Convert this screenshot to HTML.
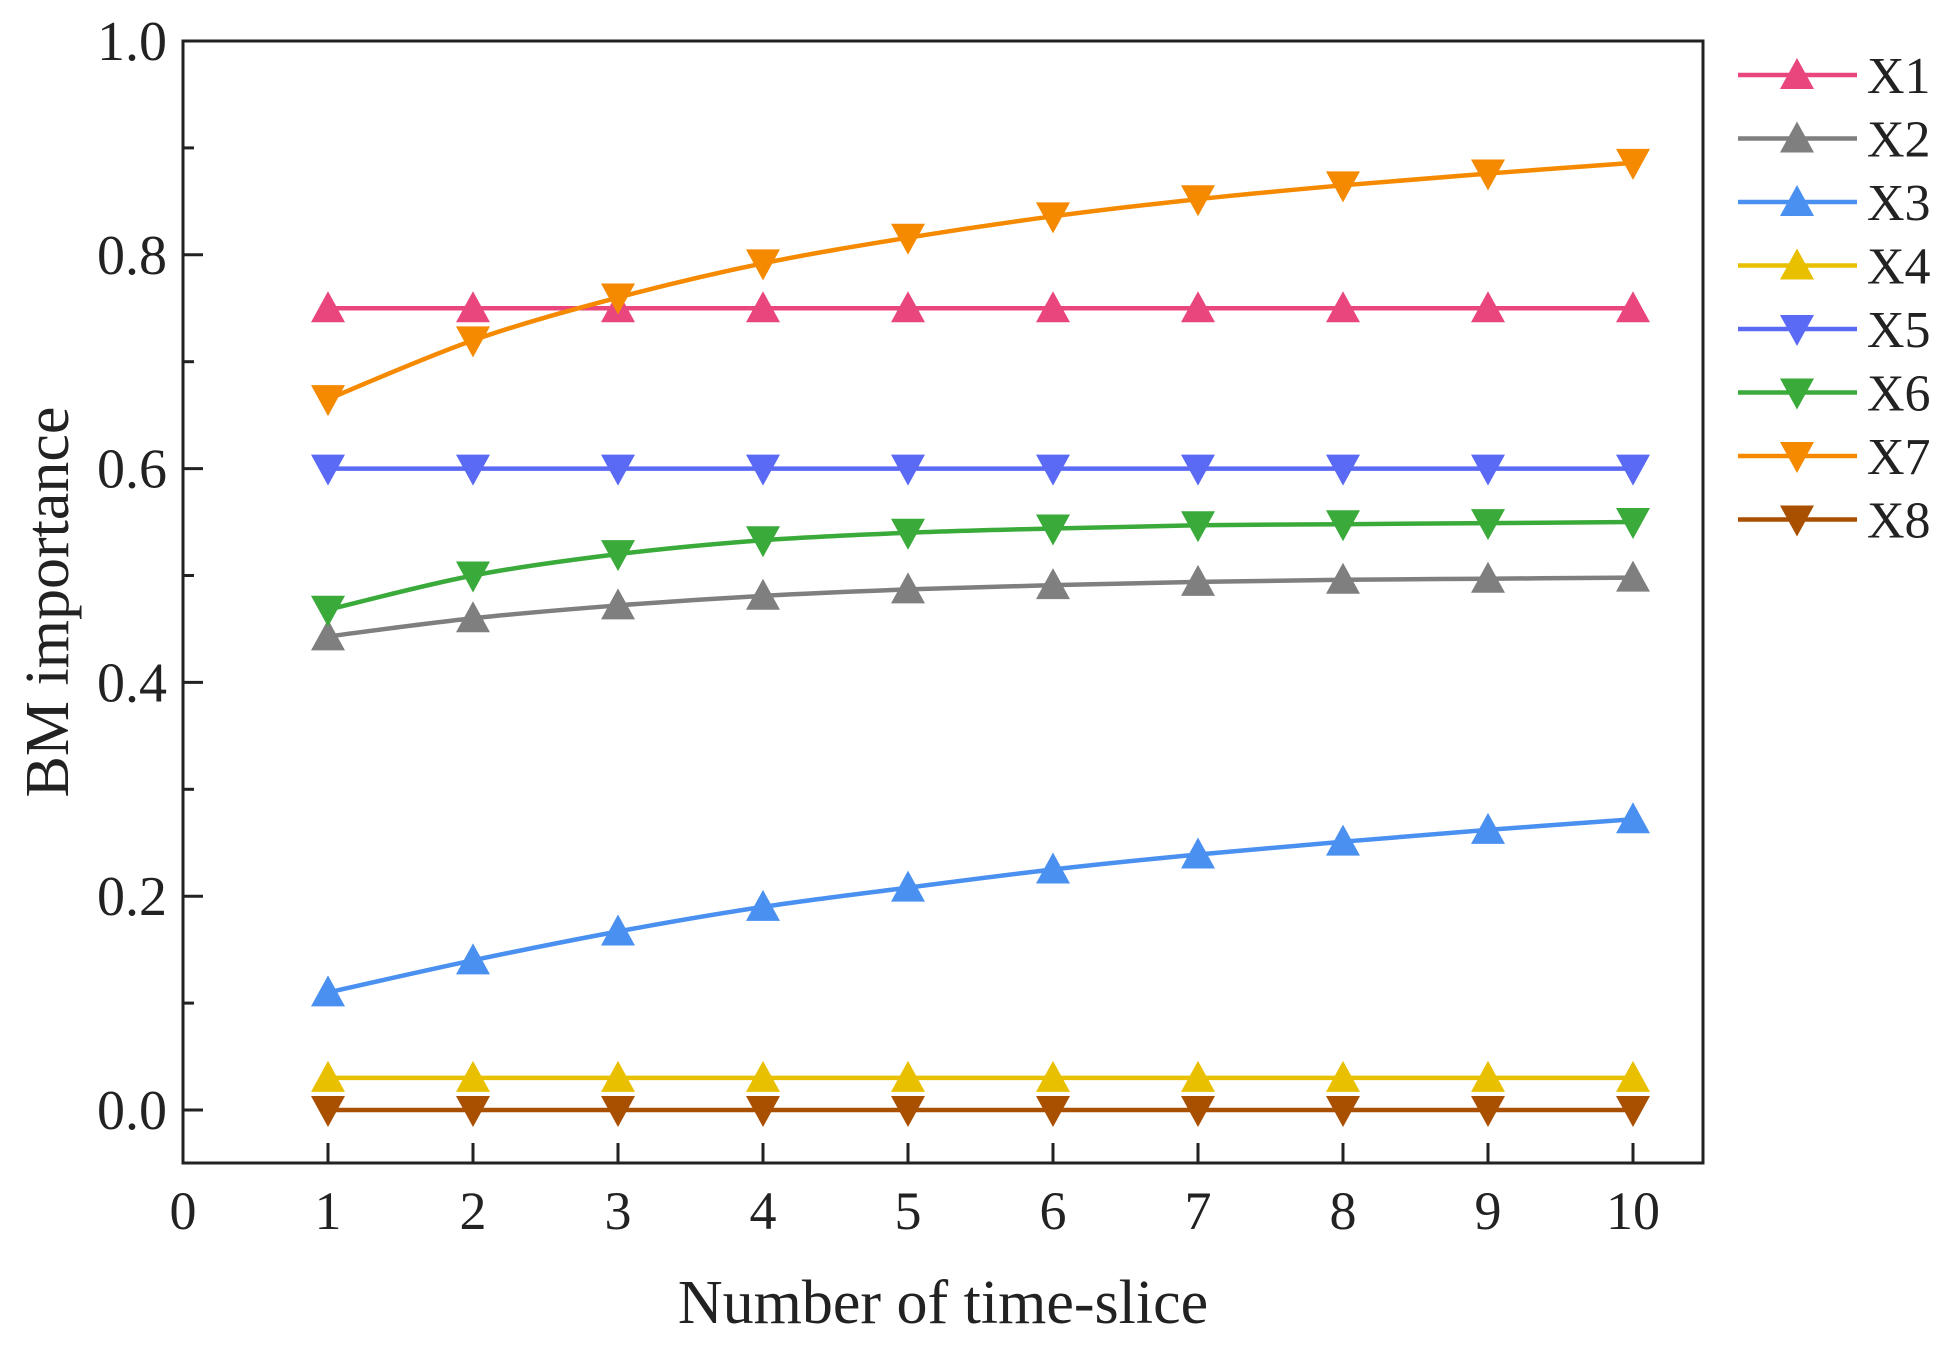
<!DOCTYPE html>
<html><head><meta charset="utf-8"><style>
body{margin:0;background:#fff;}
svg text{font-family:"Liberation Serif",serif;fill:#222;}
</style></head><body>
<svg id="chart" width="1953" height="1350" xmlns="http://www.w3.org/2000/svg"></svg>
<script>
const categories=[1,2,3,4,5,6,7,8,9,10];
const seriesNames=["X1","X2","X3","X4","X5","X6","X7","X8"];
const x1=[0.75,0.75,0.75,0.75,0.75,0.75,0.75,0.75,0.75,0.75];
const x2=[0.443,0.46,0.472,0.481,0.487,0.491,0.494,0.496,0.497,0.498];
const x3=[0.11,0.14,0.167,0.19,0.208,0.225,0.239,0.251,0.262,0.272];
const x4=[0.03,0.03,0.03,0.03,0.03,0.03,0.03,0.03,0.03,0.03];
const x5=[0.6,0.6,0.6,0.6,0.6,0.6,0.6,0.6,0.6,0.6];
const x6=[0.468,0.5,0.52,0.533,0.54,0.544,0.547,0.548,0.549,0.55];
const x7=[0.665,0.72,0.76,0.792,0.816,0.836,0.852,0.865,0.876,0.886];
const x8=[0,0,0,0,0,0,0,0,0,0];
const xTicks=[0,1,2,3,4,5,6,7,8,9,10];
const yTicks=["0.0","0.2","0.4","0.6","0.8","1.0"];

const svg=document.getElementById('chart');
const NS="http://www.w3.org/2000/svg";
const L=183,R=1703,T=41,B=1163;
const X=v=>L+v*145;
const Y=v=>1110-v*1069;
function mk(tag,attrs,parent){const e=document.createElementNS(NS,tag);for(const k in attrs)e.setAttribute(k,attrs[k]);(parent||svg).appendChild(e);return e;}

const colors=["#e8467c","#7f7f7f","#4a90f0","#e8c000","#5a6af5","#3aaa3a","#f58a00","#a84f00"];
const up=[true,true,true,true,false,false,false,false];
const data=[x1,x2,x3,x4,x5,x6,x7,x8];

function tri(cx,cy,isUp,color,parent){
  const w=17,h=14;
  const p=isUp?`${cx-w},${cy+h} ${cx+w},${cy+h} ${cx},${cy-h-3}`:`${cx-w},${cy-h} ${cx+w},${cy-h} ${cx},${cy+h+3}`;
  return mk('polygon',{points:p,fill:color},parent);
}

const frame=mk('rect',{x:L,y:T,width:R-L,height:B-T,fill:'none',stroke:'#222','stroke-width':3});



yTicks.forEach(t=>{
  const v=parseFloat(t),y=Y(v);
  const tk=mk('line',{x1:L,x2:L+20,y1:y,y2:y,stroke:'#222','stroke-width':3});
  
  
  const lb=mk('text',{x:L-16,y:y+19,'text-anchor':'end','font-size':56});
  lb.textContent=t;
  
  
});
[0.1,0.3,0.5,0.7,0.9].forEach(v=>{
  const tk=mk('line',{x1:L,x2:L+11,y1:Y(v),y2:Y(v),stroke:'#222','stroke-width':3});
  
  
});
xTicks.forEach(v=>{
  const x=X(v);
  const tk=mk('line',{x1:x,x2:x,y1:B,y2:B-20,stroke:'#222','stroke-width':3});
  
  
  const lb=mk('text',{x:x,y:B+66,'text-anchor':'middle','font-size':54});
  lb.textContent=v;
  
  
});
const xt=mk('text',{x:943,y:1323,'text-anchor':'middle','font-size':62});
xt.textContent="Number of time-slice";


const yt=mk('text',{x:0,y:0,'text-anchor':'middle','font-size':62,transform:'translate(68,602) rotate(-90)'});
yt.textContent="BM importance";



function smooth(pts){
  let d=`M${pts[0][0]},${pts[0][1]}`;
  for(let i=0;i<pts.length-1;i++){
    const p0=pts[Math.max(0,i-1)],p1=pts[i],p2=pts[i+1],p3=pts[Math.min(pts.length-1,i+2)];
    const c1=[p1[0]+(p2[0]-p0[0])/6,p1[1]+(p2[1]-p0[1])/6];
    const c2=[p2[0]-(p3[0]-p1[0])/6,p2[1]-(p3[1]-p1[1])/6];
    d+=` C${c1[0]},${c1[1]} ${c2[0]},${c2[1]} ${p2[0]},${p2[1]}`;
  }
  return d;
}
const order=[3,7,2,1,5,4,0,6];
order.forEach(s=>{
  const g=mk('g',{});
  
  
  const pts=categories.map((c,i)=>[X(c),Y(data[s][i])]);
  const path=mk('path',{d:smooth(pts),fill:'none',stroke:colors[s],'stroke-width':4.5},g);
  
  
  pts.forEach(p=>{
    const m=tri(p[0],p[1],up[s],colors[s],g);
    
    
  });
});

seriesNames.forEach((n,i)=>{
  const y=75+i*63.5;
  const g=mk('g',{});
  
  
  mk('line',{x1:1738,x2:1857,y1:y,y2:y,stroke:colors[i],'stroke-width':4.5},g);
  tri(1797,y,up[i],colors[i],g);
  const t=mk('text',{x:1867,y:y+18,'font-size':52},g);
  t.textContent=n;
});
</script>
</body></html>
